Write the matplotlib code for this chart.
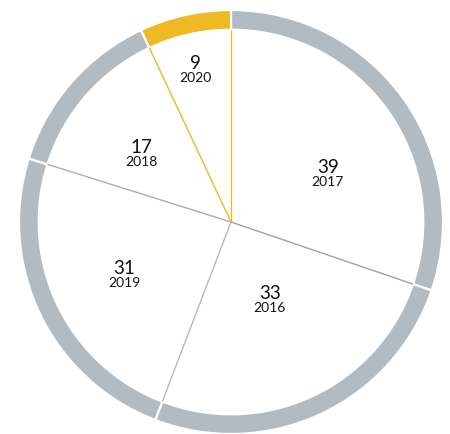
import numpy as np
import matplotlib
matplotlib.use("Agg")
import matplotlib.pyplot as plt

# values, clockwise from the top
counts = [39, 33, 31, 17, 9]
years = ["2017", "2016", "2019", "2018", "2020"]

ring_colors = ["#b3bbc2", "#b3bbc2", "#b3bbc2", "#b3bbc2", "#eeb923"]
# label placement: distance from centre and turn away from the slice middle
label_r = [0.511, 0.411, 0.562, 0.533, 0.737]
label_turn = [-9.0, 1.4, 0.3, 3.8, 0.7]

fig = plt.figure(figsize=(4.5, 4.35), dpi=100)
ax = fig.add_axes([0, 0, 1, 1])

R = 212.0
cx, cy = 231.0, 223.0

ring_w = 0.093
ax.pie(counts, radius=1.0, startangle=90, counterclock=False, colors=ring_colors,
       wedgeprops=dict(width=ring_w, edgecolor="white", linewidth=1.6))

# slice boundaries inside the ring
total = float(sum(counts))
edges = 90 - 360 * np.cumsum([0] + counts) / total
line_colors = ["#eeb923", "#9aa3ab", "#b8b8b8", "#a8aeb4", "#eeb923"]
inner = 1.0 - ring_w
for a, c in zip(edges[:-1], line_colors):
    t = np.deg2rad(a)
    ax.plot([0, inner * np.cos(t)], [0, inner * np.sin(t)], color=c, lw=1.0,
            solid_capstyle="butt")

# labels
for n, y, a0, a1, r, d in zip(counts, years, edges[:-1], edges[1:], label_r, label_turn):
    t = np.deg2rad((a0 + a1) / 2 + d)
    x0, y0 = r * np.cos(t), r * np.sin(t)
    ax.text(x0, y0 + 1.5 / R, str(n), ha="center", va="baseline", fontsize=13.5,
            family="Lato", color="#111111")
    ax.text(x0, y0 - 11.5 / R, y, ha="center", va="baseline", fontsize=10,
            family="Lato", color="#111111")

# pie() resets the limits, so set them afterwards
ax.set_xlim(-cx / R, (450 - cx) / R)
ax.set_ylim(-(435 - cy) / R, cy / R)
ax.set_aspect("equal")
ax.axis("off")

fig.savefig("out.png", dpi=100)
